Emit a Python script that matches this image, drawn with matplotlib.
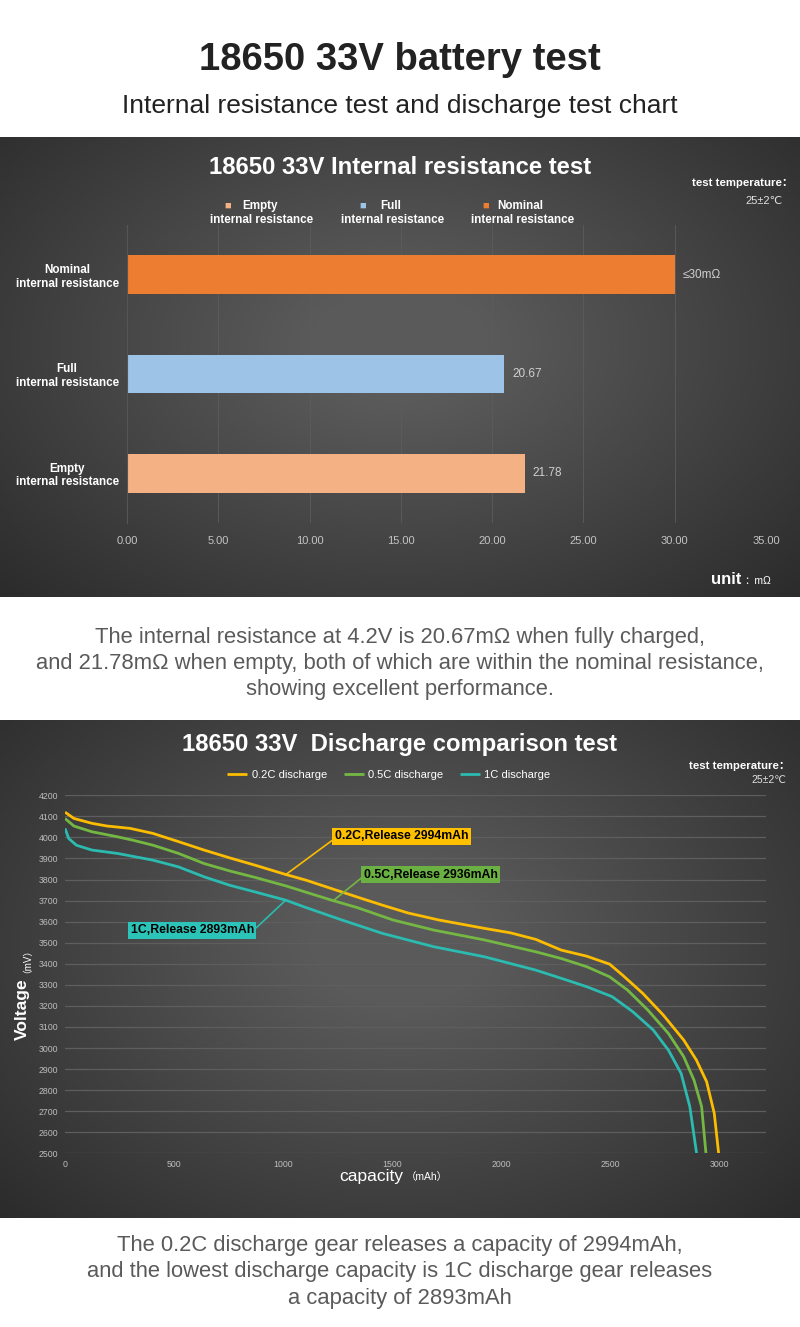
import numpy as np
import matplotlib
matplotlib.use('Agg')
import matplotlib.pyplot as plt
from matplotlib.colors import LinearSegmentedColormap

plt.rcParams['font.family'] = ['Liberation Sans', 'DejaVu Sans', 'Noto Sans CJK SC']

# ---- internal resistance data ----
categories = ['Empty\ninternal resistance', 'Full\ninternal resistance', 'Nominal\ninternal resistance']
legend_first = ['Empty', 'Full', 'Nominal']
resistance = [21.78, 20.67, 30.0]
value_labels = ['21.78', '20.67', '≤30mΩ']
bar_colors = ['#f4b183', '#9dc3e6', '#ed7d31']
r_ticks = [0, 5, 10, 15, 20, 25, 30, 35]

# ---- discharge curves (mAh, mV) ----
cap_02 = [0, 41, 123, 193, 298, 403, 520, 637, 754, 871, 1011, 1104, 1221, 1338, 1455, 1572, 1712,
          1922, 2040, 2156, 2273, 2390, 2495, 2554, 2647, 2740, 2834, 2892, 2939, 2974, 2994]
mv_02 = [4120, 4090, 4067, 4054, 4043, 4019, 3980, 3940, 3903, 3868, 3824, 3797, 3757, 3717, 3678, 3641, 3608,
         3568, 3547, 3516, 3465, 3436, 3398, 3346, 3259, 3157, 3038, 2943, 2840, 2690, 2500]
cap_05 = [0, 41, 123, 240, 310, 403, 520, 637, 754, 871, 1011, 1221, 1338, 1502, 1689,
          1922, 2156, 2273, 2390, 2495, 2577, 2670, 2764, 2834, 2881, 2916, 2936]
mv_05 = [4090, 4054, 4027, 4003, 3987, 3963, 3924, 3876, 3841, 3810, 3770, 3702, 3667, 3608, 3560,
         3513, 3457, 3425, 3386, 3338, 3275, 3180, 3069, 2959, 2848, 2722, 2500]
cap_1c = [0, 17, 52, 123, 240, 403, 520, 637, 754, 871, 1011, 1104, 1268, 1455, 1689,
          1922, 2156, 2273, 2390, 2506, 2600, 2694, 2764, 2822, 2862, 2893]
mv_1c = [4043, 3995, 3963, 3940, 3924, 3892, 3860, 3813, 3773, 3741, 3702, 3667, 3608, 3544, 3481,
         3433, 3370, 3331, 3291, 3244, 3173, 3086, 2990, 2880, 2722, 2500]
curve_names = ['0.2C discharge', '0.5C discharge', '1C discharge']
curve_colors = ['#fcbc00', '#74b843', '#2bbbb0']
release_labels = ['0.2C,Release 2994mAh', '0.5C,Release 2936mAh', '1C,Release 2893mAh']
box_colors = ['#ffc000', '#6ab042', '#2cc4b8']
v_ticks = list(range(2500, 4201, 100))
c_ticks = [0, 500, 1000, 1500, 2000, 2500, 3000]

W, H = 800, 1327
fig = plt.figure(figsize=(W / 100, H / 100), dpi=100)
fig.patch.set_facecolor('white')


def fx(x):
    return x / W


def fy(y):
    return 1 - y / H


bg_cmap = LinearSegmentedColormap.from_list('bg', ['#272727', '#5a5a5a'])


def panel(top, bottom):
    ax = fig.add_axes([0, fy(bottom), 1, (bottom - top) / H], zorder=0)
    yy, xx = np.mgrid[0:1:200j, 0:1:400j]
    r = np.sqrt(((xx - 0.5) / 0.75) ** 2 + ((yy - 0.45) / 0.85) ** 2)
    ax.imshow(np.clip(1 - r, 0, 1), cmap=bg_cmap, aspect='auto', extent=(0, 1, 0, 1), vmin=0, vmax=0.85)
    ax.axis('off')


panel(137, 597)
panel(720, 1218)

# headings
fig.text(0.5, fy(70), '18650 33V battery test', ha='center', va='baseline',
         fontsize=27.5, fontweight='bold', color='#222222')
fig.text(0.5, fy(113), 'Internal resistance test and discharge test chart', ha='center', va='baseline',
         fontsize=19, color='#222222')

# ---------------- bar chart ----------------
fig.text(0.5, fy(174), '18650 33V Internal resistance test', ha='center', va='baseline',
         fontsize=17.2, fontweight='bold', color='white')
ax1 = fig.add_axes([fx(127), fy(523), (766 - 127) / W, (523 - 225) / H], zorder=1)
ax1.set_facecolor('none')
y_pos = np.arange(len(categories))
ax1.barh(y_pos, resistance, height=0.39, color=bar_colors, zorder=2)
for i, v in enumerate(resistance):
    ax1.text(v + 0.45, i, value_labels[i], va='center', ha='left', fontsize=8.5, color='#d0d0d0')
ax1.set_xlim(0, 35)
ax1.set_ylim(-0.5, 2.5)
ax1.set_xticks(r_ticks)
ax1.set_xticklabels(['%.2f' % t for t in r_ticks])
ax1.set_yticks(y_pos)
ax1.set_yticklabels(categories, fontsize=8.4, fontweight='bold', color='white', linespacing=1.15)
for lab in ax1.get_yticklabels():
    lab.set_multialignment('center')
ax1.tick_params(axis='x', length=0, pad=9, labelsize=8, labelcolor='#c4c4c4')
ax1.tick_params(axis='y', length=0, pad=6)
ax1.grid(axis='x', color='#5c5c5c', lw=0.6, zorder=0)
for s in ['top', 'right', 'bottom']:
    ax1.spines[s].set_visible(False)
ax1.spines['left'].set_color('#555555')

# legend of bar chart
sq_x = [228, 363, 486]
first_x = [242, 380, 497]
second_x = [262, 393, 523]
for i in range(3):
    fig.text(fx(sq_x[i]), fy(206), '■', ha='center', va='center', fontsize=8, color=bar_colors[i])
    fig.text(fx(first_x[i]), fy(206), legend_first[i], ha='left', va='center',
             fontsize=8.4, fontweight='bold', color='white')
    fig.text(fx(second_x[i]), fy(220), 'internal resistance', ha='center', va='center',
             fontsize=8.4, fontweight='bold', color='white')

fig.text(fx(793), fy(183), 'test temperature：', ha='right', va='center', fontsize=8.2,
         fontweight='bold', color='white')
fig.text(fx(783), fy(201), '25±2℃', ha='right', va='center', fontsize=8, color='#e0e0e0')
fig.text(fx(741), fy(580), 'unit', ha='right', va='center', fontsize=12, fontweight='bold', color='white')
fig.text(fx(744), fy(581), '：mΩ', ha='left', va='center', fontsize=7.5, color='white')

para1 = ['The internal resistance at 4.2V is 20.67mΩ when fully charged,',
         'and 21.78mΩ when empty, both of which are within the nominal resistance,',
         'showing excellent performance.']
for k, line in enumerate(para1):
    fig.text(0.5, fy(643 + 26 * k), line, ha='center', va='baseline', fontsize=15.8, color='#5a5a5a')

# ---------------- discharge chart ----------------
fig.text(0.5, fy(751), '18650 33V  Discharge comparison test', ha='center', va='baseline',
         fontsize=17.2, fontweight='bold', color='white')
ax2 = fig.add_axes([fx(65), fy(1153.3), (766 - 65) / W, (1153.3 - 795.3) / H], zorder=1)
ax2.set_facecolor('none')
caps = [cap_02, cap_05, cap_1c]
mvs = [mv_02, mv_05, mv_1c]
for c, m, col, name in zip(caps, mvs, curve_colors, curve_names):
    ax2.plot(c, m, color=col, lw=2, label=name, zorder=3, solid_capstyle='butt', solid_joinstyle='round')
ax2.set_xlim(0, 3211)
ax2.set_ylim(2500, 4200)
ax2.set_yticks(v_ticks)
ax2.set_xticks(c_ticks)
ax2.tick_params(length=0, labelsize=6.3, labelcolor='#bdbdbd')
ax2.tick_params(axis='y', pad=5)
ax2.tick_params(axis='x', pad=5)
ax2.grid(axis='y', color='#5e5e5e', lw=0.9, zorder=0)
for s in ax2.spines.values():
    s.set_visible(False)

leg = fig.legend(loc='center', bbox_to_anchor=(fx(389), fy(775)), ncol=3, frameon=False,
                 fontsize=8, handlelength=1.8, handletextpad=0.4, columnspacing=1.5, labelcolor='white')
for ln in leg.get_lines():
    ln.set_linewidth(2)

# release annotations
points = [(1012, 3824), (1233, 3703), (1012, 3703)]
text_pos = [(1235, 4006), (1368, 3822), (865, 3560)]
aligns = ['left', 'left', 'right']
rel = [(0, 0.3), (0, 0.4), (1, 0.5)]
for i in range(3):
    ax2.annotate(release_labels[i], xy=points[i], xytext=text_pos[i], ha=aligns[i], va='center',
                 fontsize=8.8, fontweight='bold', color='black', zorder=5,
                 bbox=dict(boxstyle='square,pad=0.2', fc=box_colors[i], ec='none'),
                 arrowprops=dict(arrowstyle='-', color=curve_colors[i], lw=1.2, shrinkA=0, shrinkB=0,
                                 relpos=rel[i]))

fig.text(fx(790), fy(766), 'test temperature：', ha='right', va='center', fontsize=8.2,
         fontweight='bold', color='white')
fig.text(fx(786), fy(780), '25±2℃', ha='right', va='center', fontsize=7.5, color='#e0e0e0')

fig.text(fx(22), fy(1009), 'Voltage', rotation=90, ha='center', va='center', fontsize=12.5,
         fontweight='bold', color='white')
fig.text(fx(22), fy(956), '（mV）', rotation=90, ha='center', va='center', fontsize=7, color='white')
fig.text(fx(403), fy(1176), 'capacity', ha='right', va='center', fontsize=12.5, color='white')
fig.text(fx(406), fy(1177), '（mAh）', ha='left', va='center', fontsize=7.5, color='white')

para2 = ['The 0.2C discharge gear releases a capacity of 2994mAh,',
         'and the lowest discharge capacity is 1C discharge gear releases',
         'a capacity of 2893mAh']
for k, line in enumerate(para2):
    fig.text(0.5, fy(1251 + 26.5 * k), line, ha='center', va='baseline', fontsize=15.8, color='#5a5a5a')

fig.savefig('out.png', dpi=100, facecolor='white')
